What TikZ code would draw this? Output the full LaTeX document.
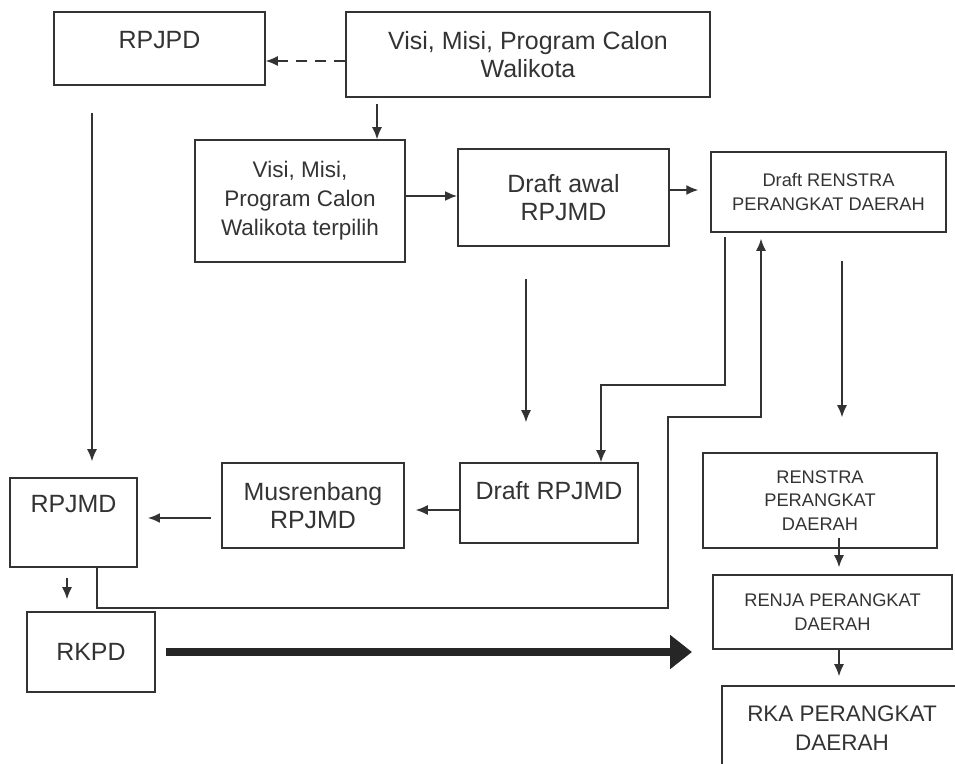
\documentclass[tikz,border=0pt]{standalone}
\usepackage{fontspec}
\setmainfont{Liberation Sans}
\usetikzlibrary{arrows.meta}

\begin{document}
\begin{tikzpicture}[x=0.02cm, y=-0.02cm,
        box/.style={draw=black!80, line width=0.9pt, text=black!80, align=center, inner sep=2pt},
        big/.style={font=\fontsize{14.2}{16}\selectfont},
        mid/.style={font=\fontsize{12.8}{16.5}\selectfont},
        small/.style={font=\fontsize{10.4}{13.4}\selectfont},
        arr/.style={draw=black!80, line width=0.8pt, -{Latex[length=2.4mm, width=2mm]}},
        fat/.style={draw=black!85, line width=4.5pt, -{Triangle[length=0.44cm, width=0.66cm]}}]
        \useasboundingbox (0,0) rectangle (955,763);

        \node[box, big, minimum width=4.22cm, minimum height=1.46cm, text depth=0.34cm] (rpjpd) at (159.5,48.5) {RPJPD};
        \node[box, big, minimum width=7.28cm, minimum height=1.7cm] (visi) at (528,54.5) {Visi, Misi, Program Calon\\Walikota};
        \node[box, mid, minimum width=4.2cm, minimum height=2.44cm] (terpilih) at (300,201) {Visi, Misi,\\Program Calon\\Walikota terpilih};
        \node[box, big, minimum width=4.22cm, minimum height=1.94cm] (awal) at (563.5,197.5) {Draft awal\\RPJMD};
        \node[box, small, minimum width=4.7cm, minimum height=1.6cm] (drenstra) at (828.5,192) {Draft RENSTRA\\PERANGKAT DAERAH};
        \node[box, big, minimum width=3.56cm, minimum height=1.6cm, text depth=0.52cm] (drpjmd) at (549,503) {Draft RPJMD};
        \node[box, big, minimum width=3.64cm, minimum height=1.7cm] (musren) at (313,505.5) {Musrenbang\\RPJMD};
        \node[box, big, minimum width=2.54cm, minimum height=1.78cm, text depth=0.76cm] (rpjmd) at (73.5,522.5) {RPJMD};
        \node[box, big, minimum width=2.56cm, minimum height=1.6cm] (rkpd) at (91,652) {RKPD};
        \node[box, small, minimum width=4.68cm, minimum height=1.9cm] (renstra) at (820,500.5) {RENSTRA\\PERANGKAT\\DAERAH};
        \node[box, small, minimum width=4.78cm, minimum height=1.48cm] (renja) at (832.5,612) {RENJA PERANGKAT\\DAERAH};
        \node[box, mid, minimum width=4.8cm, minimum height=1.68cm] (rka) at (842,728) {RKA PERANGKAT\\DAERAH};

        \draw[arr, dash pattern=on 0.22cm off 0.16cm] (visi.west |- 0,61) -- (rpjpd.east |- 0,61);
        \draw[arr, shorten <=0.12cm] (visi.south -| 377,0) -- (terpilih.north -| 377,0);
        \draw[arr, line width=1.3pt] (terpilih.east |- 0,196) -- (awal.west |- 0,196);
        \draw[arr, shorten >=0.24cm] (awal.east |- 0,190) -- (drenstra.west |- 0,190);
        \draw[arr, shorten <=0.64cm, shorten >=0.8cm] (awal.south -| 526,0) -- (drpjmd.north -| 526,0);
        \draw[arr, shorten <=0.08cm] (drenstra.south -| 725,0) -- (725,385) -| (drpjmd.north -| 601,0);
        \draw[arr, shorten >=0.12cm] (rpjmd.south -| 97,0) -- (97,608) -| (668,417) -| (drenstra.south -| 761,0);
        \draw[arr, shorten <=0.56cm, shorten >=0.7cm] (drenstra.south -| 842,0) -- (renstra.north -| 842,0);
        \draw[arr, shorten <=0.54cm, shorten >=0.32cm] (rpjpd.south -| 92,0) -- (rpjmd.north -| 92,0);
        \draw[arr, shorten >=0.22cm] (drpjmd.west |- 0,510) -- (musren.east |- 0,510);
        \draw[arr, line width=1.7pt, shorten <=0.2cm, shorten >=0.2cm] (musren.west |- 0,518) -- (rpjmd.east |- 0,518);
        \draw[arr, shorten <=0.2cm, shorten >=0.24cm] (rpjmd.south -| 67,0) -- (rkpd.north -| 67,0);
        \draw[fat, shorten <=0.2cm] (rkpd.east) -- (rkpd.east -| 692,0);
        \draw[arr, shorten <=-0.22cm, shorten >=0.14cm] (renstra.south -| 839,0) -- (renja.north -| 839,0);
        \draw[arr, shorten >=0.18cm] (renja.south -| 839,0) -- (rka.north -| 839,0);
    \end{tikzpicture}
\end{document}
